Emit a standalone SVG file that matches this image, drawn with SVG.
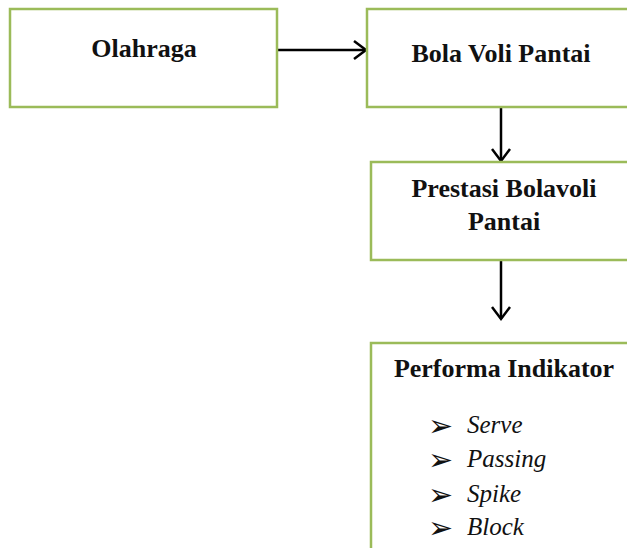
<svg xmlns="http://www.w3.org/2000/svg" width="627" height="548" viewBox="0 0 627 548">
<style>
.box{fill:#fff;stroke:#9bbb59;stroke-width:2.5}
.t{font-family:"Liberation Serif",serif;font-weight:bold;font-size:26px;fill:#111;text-anchor:middle}
.i{font-family:"Liberation Serif",serif;font-style:italic;font-size:25px;fill:#111}
.b{font-family:"DejaVu Sans",sans-serif;font-size:30px;fill:#111}
.c{stroke:#000;stroke-width:2.5;fill:none}
</style>
<rect width="627" height="548" fill="#fff"/>
<g id="connectors">
<line class="c" x1="277" y1="50" x2="366" y2="50"/>
<polyline class="c" points="354,41 366,50 354,59"/>
<line class="c" x1="501" y1="107" x2="501" y2="161"/>
<polyline class="c" points="492,149 501,161 510,149"/>
<line class="c" x1="501" y1="260" x2="501" y2="319"/>
<polyline class="c" points="492,307 501,319 510,307"/>
</g>
<g id="olahraga">
<rect class="box" x="10" y="9" width="267" height="98"/>
<text class="t" x="144" y="57">Olahraga</text>
</g>
<g id="bola-voli-pantai">
<rect class="box" x="367" y="9" width="280" height="98"/>
<text class="t" x="501" y="62">Bola Voli Pantai</text>
</g>
<g id="prestasi">
<rect class="box" x="371" y="162" width="280" height="98"/>
<text class="t" x="504" y="197">Prestasi Bolavoli</text>
<text class="t" x="504" y="230">Pantai</text>
</g>
<g id="performa">
<rect class="box" x="371" y="343" width="280" height="230"/>
<text class="t" x="504" y="377">Performa Indikator</text>
<text class="b" x="428" y="436">➢</text>
<text class="i" x="467" y="433">Serve</text>
<text class="b" x="428" y="470">➢</text>
<text class="i" x="467" y="467">Passing</text>
<text class="b" x="428" y="505">➢</text>
<text class="i" x="467" y="502">Spike</text>
<text class="b" x="428" y="538">➢</text>
<text class="i" x="467" y="535">Block</text>
</g>
</svg>
